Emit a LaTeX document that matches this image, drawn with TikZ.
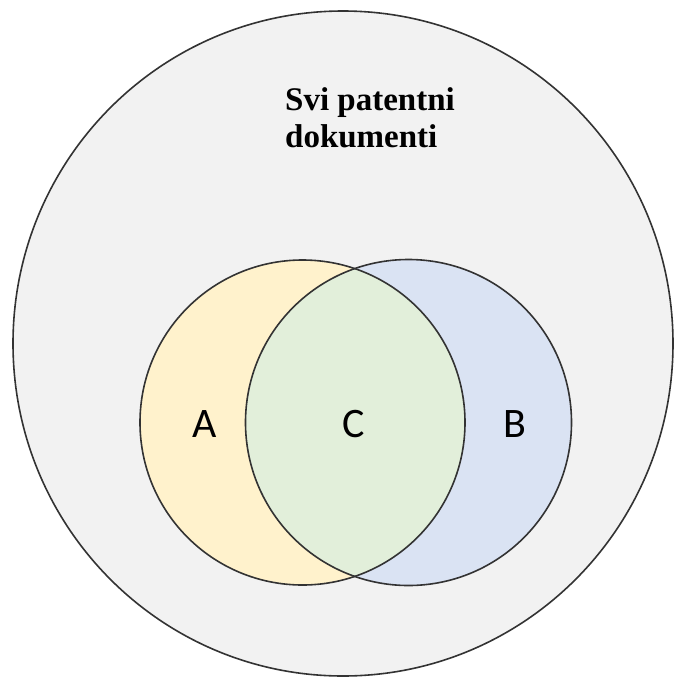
\documentclass[tikz,border=0pt]{standalone}
\usepackage{fontspec}
\setmainfont{Liberation Serif}
\newfontfamily\labelfont{Carlito}
\definecolor{outergray}{HTML}{F2F2F2}
\definecolor{setA}{HTML}{FFF2CC}
\definecolor{setB}{HTML}{DAE3F3}
\definecolor{setC}{HTML}{E2EFDA}
\definecolor{edgecol}{HTML}{333333}
\tikzset{
  setedge/.style={draw=edgecol, line width=1.6pt},
  setlabel/.style={anchor=base, inner sep=0pt, font=\labelfont\fontsize{42}{50}\selectfont, text=black},
  titletext/.style={anchor=base west, inner sep=0pt, align=left, font=\bfseries\fontsize{33}{37}\selectfont, text=black}
}
\begin{document}
\begin{tikzpicture}[x=1pt,y=-1pt]
\useasboundingbox (0,0) rectangle (673,681);
\fill[white] (0,0) rectangle (673,681);
% outer set
\fill[outergray] (343,343.5) ellipse [x radius=330, y radius=332.5];
\draw[setedge] (343,343.5) ellipse [x radius=330, y radius=332.5];
% sets A and B
\fill[setA] (302.5,422.5) circle [radius=162.5];
\fill[setB] (408.5,422.5) circle [radius=163];
\begin{scope}
  \clip (302.5,422.5) circle [radius=162.5];
  \fill[setC] (408.5,422.5) circle [radius=163];
\end{scope}
\draw[setedge] (302.5,422.5) circle [radius=162.5];
\draw[setedge] (408.5,422.5) circle [radius=163];
% labels
\node[titletext] (title) at (285,147) {Svi patentni\\dokumenti};
\node[setlabel] (labA) at (205,437) {A};
\node[setlabel] (labC) at (354,437) {C};
\node[setlabel] (labB) at (515,437) {B};
\end{tikzpicture}
\end{document}
